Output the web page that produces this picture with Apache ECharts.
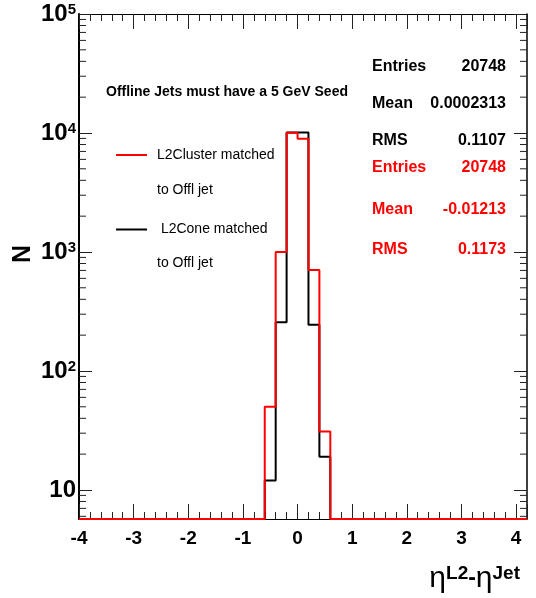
<!DOCTYPE html>
<html><head><meta charset="utf-8">
<script src="https://cdn.jsdelivr.net/npm/echarts@6/dist/echarts.min.js"></script>
<style>html,body{margin:0;padding:0;background:#fff}#c{width:536px;height:598px}</style>
</head><body><div id="c"></div>
<script>
// ---- data ----
const binLow = -4.0;
const binWidth = 0.2;
// 41 bins from -4.0 to 4.2
const l2ClusterCounts = [0,0,0,0,0,0,0,0,0,0,0,0,0,0,0,0,0, 50,1000,10030,8930,705,31, 0,0,0,0,0,0,0,0,0,0,0,0,0,0,0,0,0,0];
const l2ConeCounts    = [0,0,0,0,0,0,0,0,0,0,0,0,0,0,0,0,0, 12,257,10100,10100,245,19, 0,0,0,0,0,0,0,0,0,0,0,0,0,0,0,0,0,0];
const seriesNames = ['L2Cluster matched', ' L2Cone matched'];
const legendSecondLine = ['to Offl jet', 'to Offl jet'];
const statsCone = [['Entries','20748'],['Mean','0.0002313'],['RMS','0.1107']];
const statsCluster = [['Entries','20748'],['Mean','-0.01213'],['RMS','0.1173']];
const titleText = 'Offline Jets must have a 5 GeV Seed';
const xMin = -4, xMax = 4.2, yMin = 5.7, yMax = 1e5;
const yMinorMantissas = [2,3,4,5,6,7,8,9];
const yDecades = [0,1,2,3,4];

// ---- build ----
const FF = '"Liberation Sans", Arial, Helvetica, sans-serif';
function histPoints(counts){
  const pts = [];
  counts.forEach((c,i)=>pts.push([binLow + i*binWidth, Math.max(c, yMin)]));
  pts.push([binLow + counts.length*binWidth, Math.max(counts[counts.length-1], yMin)]);
  return pts;
}
const minorY = [];
yDecades.forEach(k=>yMinorMantissas.forEach(m=>{const v=m*Math.pow(10,k); if(v>=yMin && v<=yMax) minorY.push([xMin, v]);}));

const chart = echarts.init(document.getElementById('c'), null, {renderer:'canvas'});
const tickStyle = {color:'#222', width:1};
const xCommon = {type:'value', min:xMin, max:xMax, splitLine:{show:false}};
const yCommon = {type:'log', logBase:10, min:yMin, max:yMax, splitLine:{show:false}};

const statsGraphics = [];
const statY = [66.5, 103.5, 141, 168, 209.5, 250];
statsCone.concat(statsCluster).forEach((s,i)=>{
  const col = i < 3 ? '#000' : '#ff0000';
  statsGraphics.push({type:'text', x:372, y:statY[i], style:{text:s[0], font:'bold 16px '+FF, fill:col, textAlign:'left', align:'left', textVerticalAlign:'middle', verticalAlign:'middle'}});
  statsGraphics.push({type:'text', x:506, y:statY[i], style:{text:s[1], font:'bold 16px '+FF, fill:col, textAlign:'right', align:'right', textVerticalAlign:'middle', verticalAlign:'middle'}});
});

chart.setOption({
  animation:false,
  backgroundColor:'#fff',
  grid:{left:79, right:9, top:14, bottom:79},
  xAxis:[
    Object.assign({}, xCommon, {position:'bottom', interval:1,
      axisLine:{show:true, onZero:false, lineStyle:{color:'#000', width:1}},
      axisTick:{show:true, inside:true, length:15, lineStyle:tickStyle},
      axisLabel:{show:true, margin:10, color:'#000', fontSize:19, fontWeight:'bold', fontFamily:FF,
        formatter:v=>Math.abs(v-Math.round(v))<1e-9 ? String(Math.round(v)) : ''}}),
    Object.assign({}, xCommon, {position:'top', interval:1,
      axisLine:{show:true, onZero:false, lineStyle:{color:'#000', width:1}},
      axisTick:{show:true, inside:true, length:15, lineStyle:tickStyle},
      axisLabel:{show:false}}),
    Object.assign({}, xCommon, {position:'bottom', interval:binWidth,
      axisLine:{show:false, onZero:false}, axisTick:{show:true, inside:true, length:7, lineStyle:tickStyle}, axisLabel:{show:false}}),
    Object.assign({}, xCommon, {position:'top', interval:binWidth,
      axisLine:{show:false, onZero:false}, axisTick:{show:true, inside:true, length:7, lineStyle:tickStyle}, axisLabel:{show:false}})
  ],
  yAxis:[
    Object.assign({}, yCommon, {position:'left',
      axisLine:{show:true, onZero:false, lineStyle:{color:'#000', width:2}},
      axisTick:{show:true, inside:true, length:13, lineStyle:tickStyle},
      axisLabel:{show:true, margin:3, color:'#000', showMaxLabel:true,
        formatter:v=>{const e=Math.log10(v), r=Math.round(e); if(Math.abs(e-r)>1e-6) return ''; return r===1 ? '{b|10}' : '{b|10}{s|'+r+'}';},
        rich:{b:{fontSize:24, fontWeight:'bold', fontFamily:FF, color:'#000'}, s:{fontSize:15, fontWeight:'bold', fontFamily:FF, color:'#000', verticalAlign:'top'}}}}),
    Object.assign({}, yCommon, {position:'right',
      axisLine:{show:true, onZero:false, lineStyle:{color:'#000', width:1.5}},
      axisTick:{show:true, inside:true, length:13, lineStyle:tickStyle},
      axisLabel:{show:false}})
  ],
  legend:{
    data:seriesNames.map(n=>({name:n, icon:'path://M0,0H31V2H0Z'})),
    orient:'vertical', left:116, top:148, padding:0, itemWidth:31, itemHeight:14, itemGap:60.5,
    selectedMode:false, symbolKeepAspect:true,
    textStyle:{fontSize:14, fontFamily:FF, color:'#000', padding:[0,0,0,5]}
  },
  series:[
    {type:'custom', name:'yminor', xAxisIndex:0, yAxisIndex:0, data:minorY, encode:{x:0,y:1}, clip:false, silent:true, z:1,
      renderItem:(params, api)=>{
        const v = api.value(1);
        const pl = api.coord([xMin, v]);
        const pr = api.coord([xMax, v]);
        return {type:'group', children:[
          {type:'line', shape:{x1:pl[0], y1:pl[1], x2:pl[0]+7, y2:pl[1]}, style:{stroke:'#222', lineWidth:1}},
          {type:'line', shape:{x1:pr[0]-7, y1:pr[1], x2:pr[0], y2:pr[1]}, style:{stroke:'#222', lineWidth:1}}
        ]};
      }},
    {type:'line', name:seriesNames[1], xAxisIndex:0, yAxisIndex:0, data:histPoints(l2ConeCounts), step:'end',
      symbol:'none', showSymbol:false, clip:false, lineStyle:{color:'#000', width:2}, itemStyle:{color:'#000'}, z:3},
    {type:'line', name:seriesNames[0], xAxisIndex:0, yAxisIndex:0, data:histPoints(l2ClusterCounts), step:'end',
      symbol:'none', showSymbol:false, clip:false, lineStyle:{color:'#ff0000', width:2}, itemStyle:{color:'#ff0000'}, z:4}
  ],
  graphic:[
    {type:'text', x:106, y:92, style:{text:titleText, font:'bold 14px '+FF, fill:'#000', textAlign:'left', align:'left', textVerticalAlign:'middle', verticalAlign:'middle'}},
    {type:'text', x:157, y:190, style:{text:legendSecondLine[0], font:'14px '+FF, fill:'#000', textAlign:'left', align:'left', textVerticalAlign:'middle', verticalAlign:'middle'}},
    {type:'text', x:157, y:263, style:{text:legendSecondLine[1], font:'14px '+FF, fill:'#000', textAlign:'left', align:'left', textVerticalAlign:'middle', verticalAlign:'middle'}},
    {type:'text', x:23, y:254, rotation:Math.PI/2, style:{text:'N', font:'bold 25px '+FF, fill:'#000', textAlign:'center', align:'center', textVerticalAlign:'middle', verticalAlign:'middle'}},
    {type:'text', x:520, y:594, style:{text:'{e|η}{s|L2}{d|-}{e|η}{s|Jet}', align:'right', textAlign:'right', verticalAlign:'bottom', textVerticalAlign:'bottom',
      rich:{e:{fontSize:30, fontFamily:FF, fill:'#000', color:'#000'}, s:{fontSize:19, fontWeight:'bold', fontFamily:FF, fill:'#000', color:'#000', verticalAlign:'top'}, d:{fontSize:23, fontWeight:'bold', fontFamily:FF, fill:'#000', color:'#000'}}}}
  ].concat(statsGraphics)
});
</script></body></html>
